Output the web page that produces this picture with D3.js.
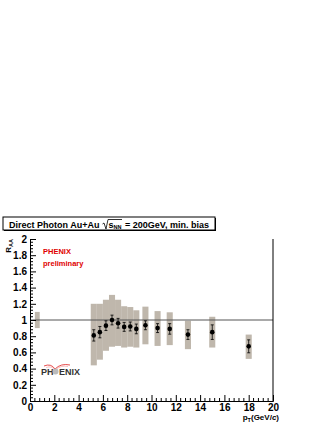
<!DOCTYPE html>
<html>
<head>
<meta charset="utf-8">
<script src="https://cdn.jsdelivr.net/npm/d3@7"></script>
<style>
  body { margin: 0; background: #fff; }
  svg { display: block; font-family: "Liberation Sans", Arial, sans-serif; }
</style>
</head>
<body>
<main></main>
<script>
const width = 327;
const height = 423;

// data
const pt = [5.25, 5.75, 6.25, 6.75, 7.25, 7.75, 8.25, 8.75, 9.5, 10.5, 11.5, 13, 15, 18];
const raa = [0.81, 0.85, 0.93, 1.00, 0.96, 0.915, 0.92, 0.89, 0.935, 0.90, 0.89, 0.82, 0.85, 0.675];
const statErr = [0.07, 0.07, 0.06, 0.06, 0.06, 0.055, 0.055, 0.06, 0.055, 0.055, 0.065, 0.06, 0.09, 0.08];
const sysLow = [0.44, 0.51, 0.62, 0.67, 0.68, 0.66, 0.67, 0.66, 0.70, 0.68, 0.69, 0.64, 0.66, 0.52];
const sysHigh = [1.20, 1.20, 1.25, 1.31, 1.25, 1.17, 1.16, 1.12, 1.165, 1.11, 1.095, 0.99, 1.04, 0.82];
const normBox = {x0: 0.4, x1: 0.8, lo: 0.9, hi: 1.1};
const xTicks = [0, 2, 4, 6, 8, 10, 12, 14, 16, 18, 20];
const yTicks = [0, 0.2, 0.4, 0.6, 0.8, 1, 1.2, 1.4, 1.6, 1.8, 2];

const boxColor = '#bfb7ac';

const svg = d3.select('main').append('svg')
    .attr('width', width)
    .attr('height', height);

svg.append('rect').attr('width', width).attr('height', height).attr('fill', '#fff');

const xScale = d3.scaleLinear().domain([0, 20]).range([30, 273]);
const yScale = d3.scaleLinear().domain([0, 2]).range([401, 239]);

// normalisation box
svg.append('rect')
   .attr('x', xScale(normBox.x0))
   .attr('y', yScale(normBox.hi))
   .attr('width', xScale(normBox.x1) - xScale(normBox.x0))
   .attr('height', yScale(normBox.lo) - yScale(normBox.hi))
   .attr('fill', boxColor);

// systematic boxes
svg.selectAll('rect.sys')
   .data(pt)
   .enter()
   .append('rect')
   .attr('class', 'sys')
   .attr('x', d => xScale(d - 0.25))
   .attr('y', (d, i) => yScale(sysHigh[i]))
   .attr('width', d => xScale(d + 0.25) - xScale(d - 0.25))
   .attr('height', (d, i) => yScale(sysLow[i]) - yScale(sysHigh[i]))
   .attr('fill', boxColor);

// unity line
svg.append('line')
   .attr('x1', xScale(0)).attr('x2', xScale(20))
   .attr('y1', yScale(1)).attr('y2', yScale(1))
   .attr('stroke', '#555').attr('stroke-width', 1);

// stat error bars
const errG = svg.append('g').attr('stroke', '#000').attr('stroke-width', 0.8);
pt.forEach((p, i) => {
    const x = xScale(p);
    const y0 = yScale(raa[i] - statErr[i]);
    const y1 = yScale(raa[i] + statErr[i]);
    errG.append('line').attr('x1', x).attr('x2', x).attr('y1', y0).attr('y2', y1);
    errG.append('line').attr('x1', x - 1.5).attr('x2', x + 1.5).attr('y1', y0).attr('y2', y0);
    errG.append('line').attr('x1', x - 1.5).attr('x2', x + 1.5).attr('y1', y1).attr('y2', y1);
});

svg.selectAll('circle.pt')
   .data(pt)
   .enter()
   .append('circle')
   .attr('class', 'pt')
   .attr('cx', d => xScale(d))
   .attr('cy', (d, i) => yScale(raa[i]))
   .attr('r', 2.3)
   .attr('fill', '#000');

// axes
const yAxis = d3.axisLeft(yScale).tickValues(yTicks).tickSize(-6).tickPadding(3)
    .tickFormat(d => d === 0 || d === 1 || d === 2 ? d3.format('d')(d) : d3.format('.1f')(d));
const yg = svg.append('g').attr('transform', 'translate(30,0)').call(yAxis);
const xAxis = d3.axisBottom(xScale).tickValues(xTicks).tickSize(-6).tickPadding(3);
const xg = svg.append('g').attr('transform', 'translate(0,401)').call(xAxis);

[yg, xg].forEach(g => {
    g.select('.domain').attr('stroke', '#000').attr('stroke-width', 1);
    g.selectAll('.tick line').attr('stroke', '#000');
    g.selectAll('.tick text')
     .attr('font-family', '"Liberation Sans", Arial, sans-serif')
     .attr('font-weight', 'bold')
     .attr('font-size', 10)
     .attr('fill', '#000');
});
xg.selectAll('.tick text').attr('dy', '0.71em');

// minor ticks
const yMinor = d3.range(0, 2.0001, 0.04).filter(v => Math.abs(v / 0.2 - Math.round(v / 0.2)) > 1e-6);
yg.selectAll('line.minor').data(yMinor).enter().append('line')
  .attr('x1', 0).attr('x2', 3)
  .attr('y1', d => yScale(d)).attr('y2', d => yScale(d))
  .attr('stroke', '#000');
const xMinor = d3.range(0, 20.0001, 0.4).filter(v => Math.abs(v / 2 - Math.round(v / 2)) > 1e-6);
xg.selectAll('line.minor').data(xMinor).enter().append('line')
  .attr('x1', d => xScale(d)).attr('x2', d => xScale(d))
  .attr('y1', 0).attr('y2', -3)
  .attr('stroke', '#000');

// right frame
svg.append('line')
   .attr('x1', 273).attr('x2', 273).attr('y1', 239).attr('y2', 401)
   .attr('stroke', '#000');

// axis titles
const yTitle = svg.append('text')
   .attr('transform', 'translate(11,239) rotate(-90)')
   .attr('text-anchor', 'end')
   .attr('font-weight', 'bold')
   .attr('font-size', 8);
yTitle.append('tspan').text('R');
yTitle.append('tspan').attr('font-size', 5.5).attr('dy', 2).text('AA');

const xTitle = svg.append('text')
   .attr('x', 279).attr('y', 420)
   .attr('text-anchor', 'end')
   .attr('font-weight', 'bold')
   .attr('font-size', 8);
xTitle.append('tspan').text('p');
xTitle.append('tspan').attr('font-size', 5.5).attr('dy', 2).text('T');
xTitle.append('tspan').attr('dy', -2).text('(GeV/');
xTitle.append('tspan').attr('font-style', 'italic').text('c');
xTitle.append('tspan').text(')');

// title box
svg.append('rect').attr('x', 4).attr('y', 218).attr('width', 212).attr('height', 13).attr('fill', '#000');
svg.append('rect').attr('x', 3).attr('y', 217).attr('width', 212).attr('height', 13)
   .attr('fill', '#fff').attr('stroke', '#000').attr('stroke-width', 1);

svg.append('text').attr('x', 9).attr('y', 227.5)
   .attr('font-weight', 'bold').attr('font-size', 9).text('Direct Photon Au+Au');
svg.append('path')
   .attr('d', 'M102.5,224 L104,223 L106,229 L108,219.5 L122,219.5')
   .attr('fill', 'none').attr('stroke', '#000').attr('stroke-width', 0.8);
const sTxt = svg.append('text').attr('x', 108.5).attr('y', 227.5)
   .attr('font-weight', 'bold').attr('font-size', 9);
sTxt.append('tspan').text('s');
sTxt.append('tspan').attr('font-size', 5.5).attr('dy', 1.5).text('NN');
svg.append('text').attr('x', 125).attr('y', 227.5)
   .attr('font-weight', 'bold').attr('font-size', 9).text('= 200GeV, min. bias');

// PHENIX preliminary label
svg.append('text').attr('x', 43).attr('y', 254)
   .attr('fill', '#e00000').attr('font-weight', 'bold').attr('font-size', 7.5).text('PHENIX');
svg.append('text').attr('x', 43).attr('y', 266)
   .attr('fill', '#e00000').attr('font-weight', 'bold').attr('font-size', 7.5).text('preliminary');

// PHENIX logo
const logo = svg.append('g');
logo.append('path')
    .attr('d', 'M44,366 Q51,363 55,369 Q61,363 70,365')
    .attr('fill', 'none').attr('stroke', '#e02020').attr('stroke-width', 0.8);
logo.append('path')
    .attr('d', 'M46,367.5 Q52,365.5 55,370 Q61,365 68,366.5')
    .attr('fill', 'none').attr('stroke', '#f08080').attr('stroke-width', 0.5);
logo.append('text').attr('x', 41).attr('y', 375)
    .attr('fill', '#333').attr('font-weight', 'bold').attr('font-size', 9).text('PH');
logo.append('circle').attr('cx', 55.5).attr('cy', 371.5).attr('r', 3)
    .attr('fill', '#bbb');
logo.append('text').attr('x', 59).attr('y', 375)
    .attr('fill', '#333').attr('font-weight', 'bold').attr('font-size', 9).text('ENIX');
</script>
</body>
</html>
